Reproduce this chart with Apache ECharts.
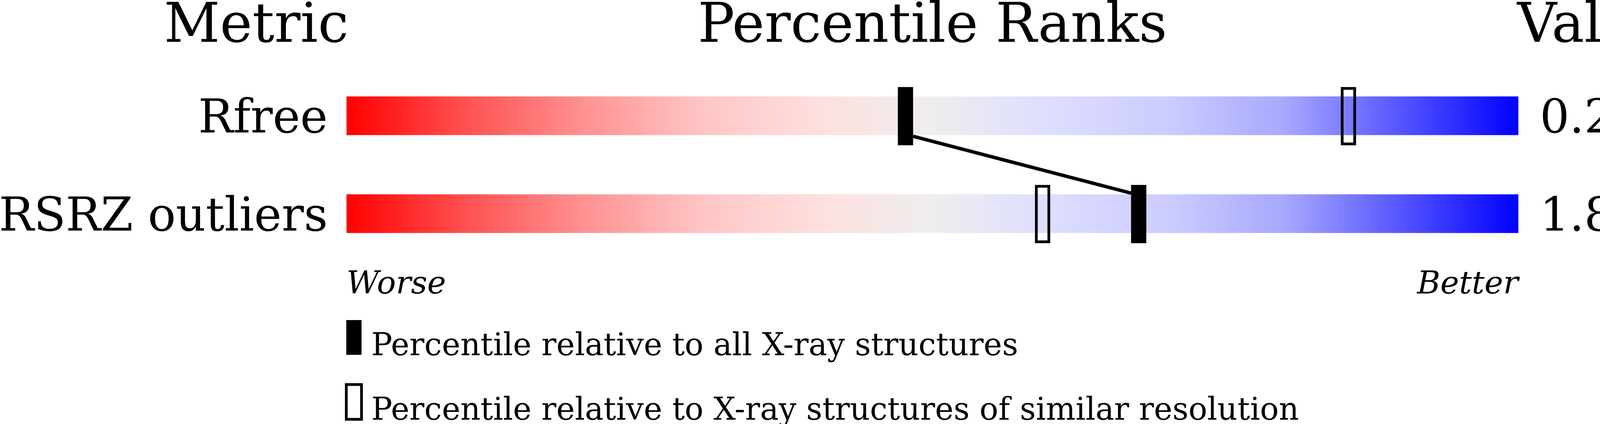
<!DOCTYPE html>
<html>
<head>
<meta charset="utf-8">
<script src="https://cdn.jsdelivr.net/npm/echarts@6/dist/echarts.min.js"></script>
<style>
html,body{margin:0;padding:0;background:#fff;}
#chart{width:4283px;height:1085px;}
</style>
</head>
<body>
<div id="chart"></div>
<script>
// ---- data ----
const metrics = ['Rfree', 'RSRZ outliers'];
const valueLabels = ['0.237', '1.8%'];
const pctAll = [47.7, 67.6];
const pctSimilar = [85.5, 59.4];
const headers = ['Metric', 'Percentile Ranks', 'Value'];
const scaleEnds = ['Worse', 'Better'];
const legendNames = [
  'Percentile relative to all X-ray structures',
  'Percentile relative to X-ray structures of similar resolution'
];

const FONT = 'DejaVu Serif';
const BAR_H = 99, MK_W = 39, MK_H = 149, STROKE = 7;

const chart = echarts.init(document.getElementById('chart'), null, {renderer: 'canvas'});

const gradientStops = [
  {offset: 0.00, color: '#ff0000'},
  {offset: 0.10, color: '#ff5050'},
  {offset: 0.20, color: '#ff9090'},
  {offset: 0.30, color: '#ffc4c4'},
  {offset: 0.40, color: '#ffdede'},
  {offset: 0.50, color: '#eeeeee'},
  {offset: 0.60, color: '#ddddff'},
  {offset: 0.70, color: '#ccccff'},
  {offset: 0.80, color: '#a8a8ff'},
  {offset: 0.90, color: '#5555ff'},
  {offset: 1.00, color: '#0000ff'}
];

function barRender(params, api) {
  const a = api.coord([api.value(0), api.value(2)]);
  const b = api.coord([api.value(1), api.value(2)]);
  return {
    type: 'rect',
    shape: {x: a[0], y: a[1] - BAR_H / 2, width: b[0] - a[0], height: BAR_H},
    style: {fill: new echarts.graphic.LinearGradient(0, 0, 1, 0, gradientStops)}
  };
}
function markerRender(filled) {
  return function (params, api) {
    const c = api.coord([api.value(0), api.value(1)]);
    if (filled) {
      return {type: 'rect', shape: {x: c[0] - MK_W / 2, y: c[1] - MK_H / 2 + 1, width: MK_W, height: MK_H},
        style: {fill: '#000'}};
    }
    const h = STROKE / 2;
    return {type: 'rect', shape: {x: c[0] - MK_W / 2 + h, y: c[1] - MK_H / 2 + 1 + h, width: MK_W - STROKE, height: MK_H - STROKE},
      style: {fill: 'none', stroke: '#000', lineWidth: STROKE}};
  };
}
function linkRender(params, api) {
  const i = params.dataIndex;
  if (i === 0) return null;
  const p = api.coord([pctAll[i - 1], i - 1]);
  const c = api.coord([api.value(0), api.value(1)]);
  return {
    type: 'line',
    shape: {x1: p[0] + MK_W / 2, y1: p[1] + BAR_H / 2 + 3, x2: c[0] - MK_W / 2, y2: c[1] - BAR_H / 2 - 3},
    style: {stroke: '#000', lineWidth: 9}
  };
}

const rowLabelRich = {t: {fontFamily: FONT, fontSize: 119, color: '#000', padding: [24, 0, 0, 0]}};

const option = {
  backgroundColor: '#ffffff',
  animation: false,
  grid: {left: 887, right: 396, top: 171, height: 501, containLabel: false, outerBoundsMode: 'none'},
  xAxis: {
    type: 'value', min: 0, max: 100, interval: 100,
    axisLine: {show: false}, axisTick: {show: false}, splitLine: {show: false},
    axisLabel: {
      show: true, showMinLabel: true, showMaxLabel: true,
      alignMinLabel: 'left', alignMaxLabel: 'right',
      margin: 17,
      fontFamily: FONT, fontStyle: 'italic', fontSize: 81, color: '#000',
      formatter: function (v) { return v === 0 ? scaleEnds[0] : (v === 100 ? scaleEnds[1] : ''); }
    }
  },
  yAxis: [
    {
      type: 'category', data: metrics, inverse: true, position: 'left',
      axisLine: {show: false}, axisTick: {show: false}, splitLine: {show: false},
      axisLabel: {margin: 48, formatter: function (v) { return '{t|' + v + '}'; }, rich: rowLabelRich}
    },
    {
      type: 'category', data: valueLabels, inverse: true, position: 'right',
      axisLine: {show: false}, axisTick: {show: false}, splitLine: {show: false},
      axisLabel: {margin: 55, formatter: function (v) { return '{t|' + v + '}'; }, rich: rowLabelRich}
    }
  ],
  legend: {
    type: 'plain', orient: 'vertical', left: 883, top: 819, height: 400, width: 3000,
    itemWidth: 39, itemHeight: 89, itemGap: 52,
    selectedMode: false, padding: 0,
    formatter: function (name) { return '{t|' + name + '}'; },
    textStyle: {
      fontFamily: FONT, fontSize: 80, color: '#000',
      rich: {t: {fontFamily: FONT, fontSize: 80, color: '#000', padding: [50, 0, 0, 20]}}
    },
    data: [
      {name: legendNames[0], icon: 'rect', itemStyle: {color: '#000', borderWidth: 0}},
      {name: legendNames[1], icon: 'rect', itemStyle: {color: 'rgba(0,0,0,0)', borderColor: '#000', borderWidth: STROKE}}
    ]
  },
  graphic: [
    {type: 'text', x: 656, y: 71, style: {text: headers[0], font: '140px "DejaVu Serif"', fill: '#000', textAlign: 'center', textVerticalAlign: 'middle'}},
    {type: 'text', x: 2387, y: 71, style: {text: headers[1], font: '140px "DejaVu Serif"', fill: '#000', textAlign: 'center', textVerticalAlign: 'middle'}},
    {type: 'text', x: 3884, y: 71, style: {text: headers[2], font: '140px "DejaVu Serif"', fill: '#000', textAlign: 'left', textVerticalAlign: 'middle'}}
  ],
  series: [
    {
      type: 'custom', name: 'scale', renderItem: barRender, z: 1, silent: true,
      encode: {x: [0, 1], y: 2},
      data: metrics.map(function (m, i) { return [0, 100, i]; })
    },
    {
      type: 'custom', name: 'link', renderItem: linkRender, z: 2, silent: true,
      encode: {x: 0, y: 1},
      data: pctAll.map(function (p, i) { return [p, i]; })
    },
    {
      type: 'custom', name: legendNames[0], renderItem: markerRender(true), z: 3,
      encode: {x: 0, y: 1}, itemStyle: {color: '#000'},
      data: pctAll.map(function (p, i) { return [p, i]; })
    },
    {
      type: 'custom', name: legendNames[1], renderItem: markerRender(false), z: 3,
      encode: {x: 0, y: 1}, itemStyle: {color: '#000'},
      data: pctSimilar.map(function (p, i) { return [p, i]; })
    }
  ]
};
chart.setOption(option);
</script>
</body>
</html>
